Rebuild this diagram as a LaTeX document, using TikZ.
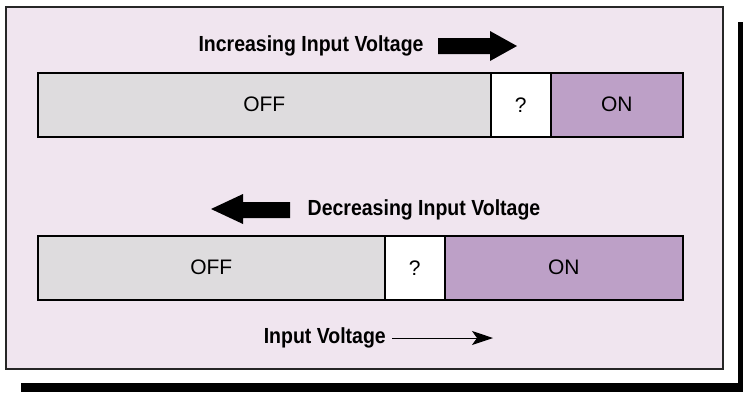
\documentclass[tikz,border=0pt]{standalone}
\usepackage{fontspec}
\setmainfont{Liberation Sans}
\usetikzlibrary{arrows.meta}
\definecolor{panelbg}{HTML}{F0E5EF}
\definecolor{offgray}{HTML}{DEDCDE}
\definecolor{onpurple}{HTML}{BDA0C7}
\tikzset{
  seg/.style={draw=black, line width=1.5pt, inner sep=0pt, anchor=north west,
    font=\fontsize{21}{25}\selectfont, minimum height=64pt},
  offseg/.style={seg, fill=offgray},
  qseg/.style={seg, fill=white},
  onseg/.style={seg, fill=onpurple},
  lbl/.style={font=\bfseries\fontsize{19.5}{23}\selectfont, inner sep=0pt},
  blockarrow/.style={fill=black},
  shadow/.style={fill=black}
}
\begin{document}
\begin{tikzpicture}[x=1pt,y=-1pt]
\useasboundingbox (0,0) rectangle (743,392);
% shadow bars
\fill[shadow] (738,22) rectangle (743,392);
\fill[shadow] (21,383) rectangle (743,392);
% panel
\draw[fill=panelbg, draw=black!85, line width=1.5pt] (6,7) rectangle (723,369);
% bar 1
\node[offseg, minimum width=453pt] (off1) at (37,72) {OFF};
\node[qseg, minimum width=60pt] (q1) at (490,72) {?};
\node[onseg, minimum width=132pt] (on1) at (550,72) {ON};
% bar 2
\node[offseg, minimum width=347pt] (off2) at (37,235) {OFF};
\node[qseg, minimum width=60pt] (q2) at (384,235) {?};
\node[onseg, minimum width=238pt] (on2) at (444,235) {ON};
% labels
\node[lbl] (inc) at (311,46) {\scalebox{1}[1.12]{Increasing Input Voltage}};
\fill[blockarrow] (438,38) -- (490,38) -- (490,31) -- (517,46) -- (490,61) -- (490,54) -- (438,54) -- cycle;
\node[lbl] (dec) at (424,210) {\scalebox{1}[1.12]{Decreasing Input Voltage}};
\fill[blockarrow] (290,202) -- (243,202) -- (243,194) -- (211,209) -- (243,224) -- (243,218) -- (290,218) -- cycle;
\node[lbl, anchor=east] (iv) at (386,338) {\scalebox{1}[1.12]{Input Voltage}};
\coordinate (ivend) at (493,338);
\draw[line width=1pt, -{Stealth[length=21pt, width=14pt, inset=5pt]}] ([xshift=6pt]iv.east) -- (ivend);
\end{tikzpicture}
\end{document}
